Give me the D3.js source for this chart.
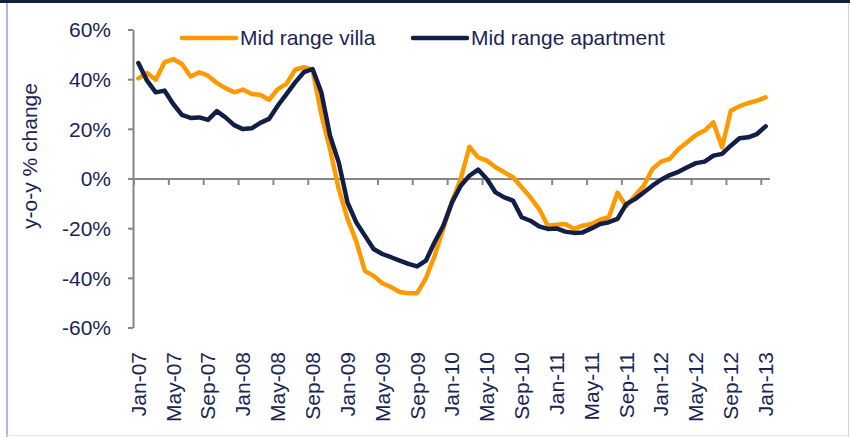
<!DOCTYPE html>
<html><head><meta charset="utf-8">
<script src="https://cdn.jsdelivr.net/npm/d3@7"></script>
<style>
html,body{margin:0;padding:0;background:#fff;}
svg{display:block;font-family:"Liberation Sans",Arial,sans-serif;}
</style></head><body>
<svg id="c" width="850" height="437"></svg>
<script>
const categories = ["Jan-07","Feb-07","Mar-07","Apr-07","May-07","Jun-07","Jul-07","Aug-07","Sep-07","Oct-07","Nov-07","Dec-07",
"Jan-08","Feb-08","Mar-08","Apr-08","May-08","Jun-08","Jul-08","Aug-08","Sep-08","Oct-08","Nov-08","Dec-08",
"Jan-09","Feb-09","Mar-09","Apr-09","May-09","Jun-09","Jul-09","Aug-09","Sep-09","Oct-09","Nov-09","Dec-09",
"Jan-10","Feb-10","Mar-10","Apr-10","May-10","Jun-10","Jul-10","Aug-10","Sep-10","Oct-10","Nov-10","Dec-10",
"Jan-11","Feb-11","Mar-11","Apr-11","May-11","Jun-11","Jul-11","Aug-11","Sep-11","Oct-11","Nov-11","Dec-11",
"Jan-12","Feb-12","Mar-12","Apr-12","May-12","Jun-12","Jul-12","Aug-12","Sep-12","Oct-12","Nov-12","Dec-12",
"Jan-13"];
const villa = [40.5,42.7,40,47,48.3,46.3,41.3,43,41.6,38.7,36.6,34.9,
36,34.2,33.9,31.9,36.2,38.3,44,45,44,26,12,-4,
-16,-25,-37,-39,-42,-43.5,-45.5,-46,-46,-40,-31,-20,
-9,0,13,8.7,7.4,4.7,2.7,0.7,-3.3,-7.4,-12.1,-18.8,
-18.4,-18.1,-20.1,-18.8,-18.1,-16.4,-15.4,-5.5,-11,-6.7,-2.7,4,
7,8.1,12.1,14.8,17.7,19.5,22.8,12.8,27.5,29.3,30.6,31.5,
32.9];
const apartment = [46.7,39.6,34.9,35.6,30.2,25.8,24.6,24.8,23.8,27.3,24.8,21.7,
20.1,20.4,22.6,24.2,29.5,34.2,38.9,43,44.3,34.9,17.4,6.7,
-9.4,-17.4,-22.8,-28.2,-30.2,-31.5,-32.9,-34.2,-35.2,-32.9,-25.5,-18.8,
-9.4,-2.7,1.3,3.8,0,-5.4,-7.4,-8.7,-15.4,-16.8,-19.1,-20.1,
-19.9,-21.2,-21.7,-21.5,-19.9,-18.1,-17.4,-16.1,-10.1,-8.1,-5.4,-2.7,
-0.3,1.6,2.9,4.7,6.4,7.0,9.4,10.1,13.4,16.4,16.8,18.1,
21.2];
const yTicks = [60,40,20,0,-20,-40,-60];
const seriesNames = ["Mid range villa","Mid range apartment"];

const svg = d3.select("#c");
const textColor = "#1b2552";
const axisColor = "#868686";
const colors = ["#ff9900","#111e48"];
const fs = 21;

// frame
svg.append("rect").attr("x",0).attr("y",0).attr("width",850).attr("height",437).attr("fill","#fff");
svg.append("line").attr("x1",7).attr("x2",7).attr("y1",3).attr("y2",437).attr("stroke","#b3b8dd").attr("stroke-width",2);
svg.append("line").attr("x1",848.5).attr("x2",848.5).attr("y1",3).attr("y2",437).attr("stroke","#d4d4dc").attr("stroke-width",1);
svg.append("line").attr("x1",7).attr("x2",850).attr("y1",435.5).attr("y2",435.5).attr("stroke","#e2e2e8").attr("stroke-width",1);
svg.append("rect").attr("x",0).attr("y",0).attr("width",850).attr("height",3).attr("fill","#111e48");

const x = d3.scaleBand().domain(categories).range([134,770]).padding(0);
const y = d3.scaleLinear().domain([-60,60]).range([328,30]);
const cx = c => x(c) + x.bandwidth()/2;

// y axis
const ya = svg.append("g");
ya.append("line").attr("x1",133.5).attr("x2",133.5).attr("y1",y(60)).attr("y2",y(-60)).attr("stroke",axisColor).attr("stroke-width",2);
yTicks.forEach(t=>{
  ya.append("line").attr("x1",128).attr("x2",133).attr("y1",y(t)).attr("y2",y(t)).attr("stroke",axisColor).attr("stroke-width",2);
  ya.append("text").attr("x",111).attr("y",y(t)).attr("dy","0.35em").attr("text-anchor","end")
    .attr("font-size",fs).attr("fill",textColor).text(t+"%");
});
svg.append("text").attr("transform","translate(30,156) rotate(-90)").attr("text-anchor","middle").attr("dy","0.35em")
  .attr("font-size",fs).attr("fill",textColor).text("y-o-y % change");

// x axis
const xa = svg.append("g");
xa.append("line").attr("x1",133).attr("x2",770).attr("y1",y(0)).attr("y2",y(0)).attr("stroke",axisColor).attr("stroke-width",2);
categories.forEach((c,i)=>{
  if(i%4===0){
    xa.append("line").attr("x1",x(c)).attr("x2",x(c)).attr("y1",y(0)).attr("y2",y(0)+6).attr("stroke",axisColor).attr("stroke-width",2);
    xa.append("text").attr("transform",`translate(${cx(c)},352) rotate(-90)`).attr("dy","0.35em")
      .attr("text-anchor","end").attr("font-size",fs).attr("fill",textColor).text(c);
  }
});

// lines
const line = d3.line().x((d,i)=>cx(categories[i])).y(d=>y(d));
[villa,apartment].forEach((s,k)=>{
  svg.append("path").datum(s).attr("d",line).attr("fill","none").attr("stroke",colors[k])
    .attr("stroke-width",4.5).attr("stroke-linejoin","round").attr("stroke-linecap","round");
});

// legend
const legendX = [182,413];
seriesNames.forEach((n,k)=>{
  svg.append("line").attr("x1",legendX[k]).attr("x2",legendX[k]+54).attr("y1",38).attr("y2",38)
    .attr("stroke",colors[k]).attr("stroke-width",4.5).attr("stroke-linecap","round");
  svg.append("text").attr("x",legendX[k]+58).attr("y",38).attr("dy","0.35em").attr("font-size",fs)
    .attr("fill",textColor).text(n);
});
</script>
</body></html>
